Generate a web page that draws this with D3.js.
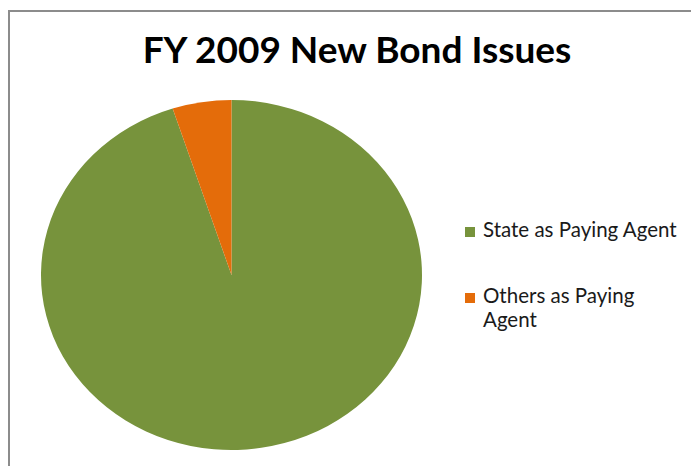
<!DOCTYPE html>
<html>
<head>
<meta charset="utf-8">
<script src="https://cdn.jsdelivr.net/npm/d3@7"></script>
<style>
  body { margin: 0; background: #fff; }
  text { font-family: Lato, "Open Sans", sans-serif; fill: #000; }
</style>
</head>
<body>
<div id="chartArea"></div>
<script>
// chart data
let categories = ["State as Paying Agent", "Others as Paying Agent"];
let values = [95, 5];
let colors = ["#77933C", "#E46C0A"];
let legendLines = [["State as Paying Agent"], ["Others as Paying", "Agent"]];
let title = "FY 2009 New Bond Issues";

let width = 691, height = 466;

let svg = d3.select("#chartArea")
    .append("svg")
        .attr("width", width)
        .attr("height", height);

// chart frame (runs off right and bottom edge)
svg.append("rect")
    .attr("x", 9)
    .attr("y", 11)
    .attr("width", 700)
    .attr("height", 480)
    .attr("fill", "#fff")
    .attr("stroke", "#8c8c8c")
    .attr("stroke-width", 2);

svg.append("text")
    .attr("x", 357)
    .attr("y", 63)
    .attr("text-anchor", "middle")
    .style("font-size", "37px")
    .style("font-weight", "bold")
    .text(title);

// pie is drawn slightly stretched horizontally, like the original
let cx = 231.5, cy = 275, ry = 175, rx = 190.5;

let pie = d3.pie()
    .sort(null)
    .value(d => d);

let arc = d3.arc()
    .innerRadius(0)
    .outerRadius(ry);

let color = d3.scaleOrdinal()
    .domain(categories)
    .range(colors);

let pieData = pie.startAngle(0).endAngle(2 * Math.PI)(values);

svg.append("g")
    .attr("transform", "translate(" + cx + "," + cy + ") scale(" + (rx / ry) + ",1)")
    .selectAll("path")
    .data(pieData)
    .join("path")
        .attr("d", arc)
        .attr("fill", (d, i) => color(categories[i]));

// legend
let legendY = [237, 303];

let legend = svg.append("g")
    .selectAll("g")
    .data(categories)
    .join("g")
        .attr("transform", (d, i) => "translate(465," + legendY[i] + ")");

legend.append("rect")
    .attr("x", 0)
    .attr("y", -10)
    .attr("width", 10)
    .attr("height", 10)
    .attr("fill", d => color(d));

legend.append("text")
    .attr("x", 18)
    .attr("y", 0)
    .style("font-size", "20.5px")
    .style("fill", "#1a1a1a")
    .selectAll("tspan")
    .data((d, i) => legendLines[i])
    .join("tspan")
        .attr("x", 18)
        .attr("dy", (d, j) => j === 0 ? 0 : 24)
        .text(d => d);
</script>
</body>
</html>
